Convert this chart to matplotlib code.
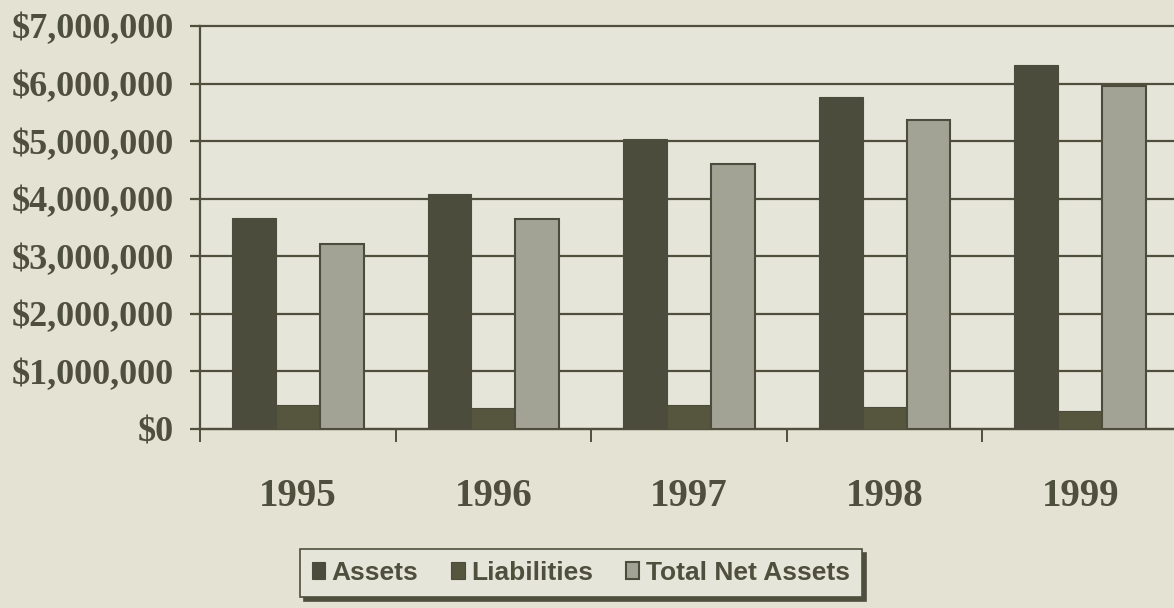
import matplotlib
matplotlib.use("Agg")
import matplotlib.pyplot as plt
import numpy as np
from matplotlib.ticker import FuncFormatter, FixedLocator

years = ["1995", "1996", "1997", "1998", "1999"]
assets = [3660000, 4090000, 5030000, 5770000, 6320000]
liabilities = [420000, 360000, 420000, 380000, 310000]
net_assets = [3220000, 3650000, 4610000, 5370000, 5960000]
series_names = ["Assets", "Liabilities", "Total Net Assets"]

ink = "#4f4f3e"
paper = "#e3e2d3"
serif = ["Liberation Serif", "DejaVu Serif"]
sans = ["Liberation Sans", "DejaVu Sans"]

fig = plt.figure(figsize=(11.74, 6.08), dpi=100, facecolor=paper)
ax = fig.add_axes([200 / 1174, 179 / 608, 978 / 1174, 403 / 608])
ax.set_facecolor("#e6e5d9")

x = np.arange(len(years))
w = 0.224
ax.bar(x - w, assets, w, color="#4c4c3c", edgecolor="#4c4c3c", lw=0.8,
       label=series_names[0], zorder=3)
ax.bar(x, liabilities, w, color="#56563f", edgecolor="#4c4c3c", lw=0.8,
       label=series_names[1], zorder=3)
ax.bar(x + w, net_assets, w, color="#a3a395", edgecolor="#4c4c3c", lw=1.5,
       label=series_names[2], zorder=3)

ax.set_xlim(-0.5, 4.5)
ax.set_ylim(0, 7000000)
ax.set_yticks(np.arange(0, 7000001, 1000000))
ax.yaxis.set_major_formatter(FuncFormatter(lambda v, p: "${:,.0f}".format(v)))
ax.grid(axis="y", color=ink, lw=1.6, zorder=1)
for gl in ax.get_ygridlines():
    gl.set_clip_on(False)

# category boundaries get the tick marks, year labels sit in between
ax.xaxis.set_major_locator(FixedLocator([-0.5, 0.5, 1.5, 2.5, 3.5]))
ax.xaxis.set_major_formatter(FuncFormatter(lambda v, p: ""))
ax.set_xticks(x, minor=True)
ax.set_xticklabels(years, minor=True)
ax.tick_params(axis="x", which="major", direction="out", length=9, width=1.4, color=ink)
ax.tick_params(axis="x", which="minor", length=0, pad=35)
ax.tick_params(axis="y", direction="out", length=7, width=1.6, color=ink, pad=12)

for lab in ax.get_yticklabels() + ax.get_xticklabels(minor=True):
    lab.set_family(serif)
    lab.set_weight("bold")
    lab.set_color(ink)
for lab in ax.get_yticklabels():
    lab.set_fontsize(26)
for lab in ax.get_xticklabels(minor=True):
    lab.set_fontsize(28)

for side in ["top", "right"]:
    ax.spines[side].set_visible(False)
ax.spines["left"].set_color(ink)
ax.spines["left"].set_linewidth(1.6)
ax.spines["bottom"].set_color(ink)
ax.spines["bottom"].set_linewidth(1.6)

leg = fig.legend(loc="center", bbox_to_anchor=(581 / 1174, 35 / 608), ncol=3,
                 frameon=True, fancybox=False,
                 shadow={"color": ink, "alpha": 1, "ox": 3, "oy": -3},
                 handlelength=0.5, handleheight=0.6, handletextpad=0.25,
                 columnspacing=1.25, borderpad=0.45,
                 prop={"family": sans, "weight": "bold", "size": 19})
leg.get_frame().set_edgecolor(ink)
leg.get_frame().set_facecolor("#e6e5d9")
leg.get_frame().set_linewidth(1.2)
for t in leg.get_texts():
    t.set_color(ink)

fig.savefig("out.png", dpi=100, facecolor=paper)
